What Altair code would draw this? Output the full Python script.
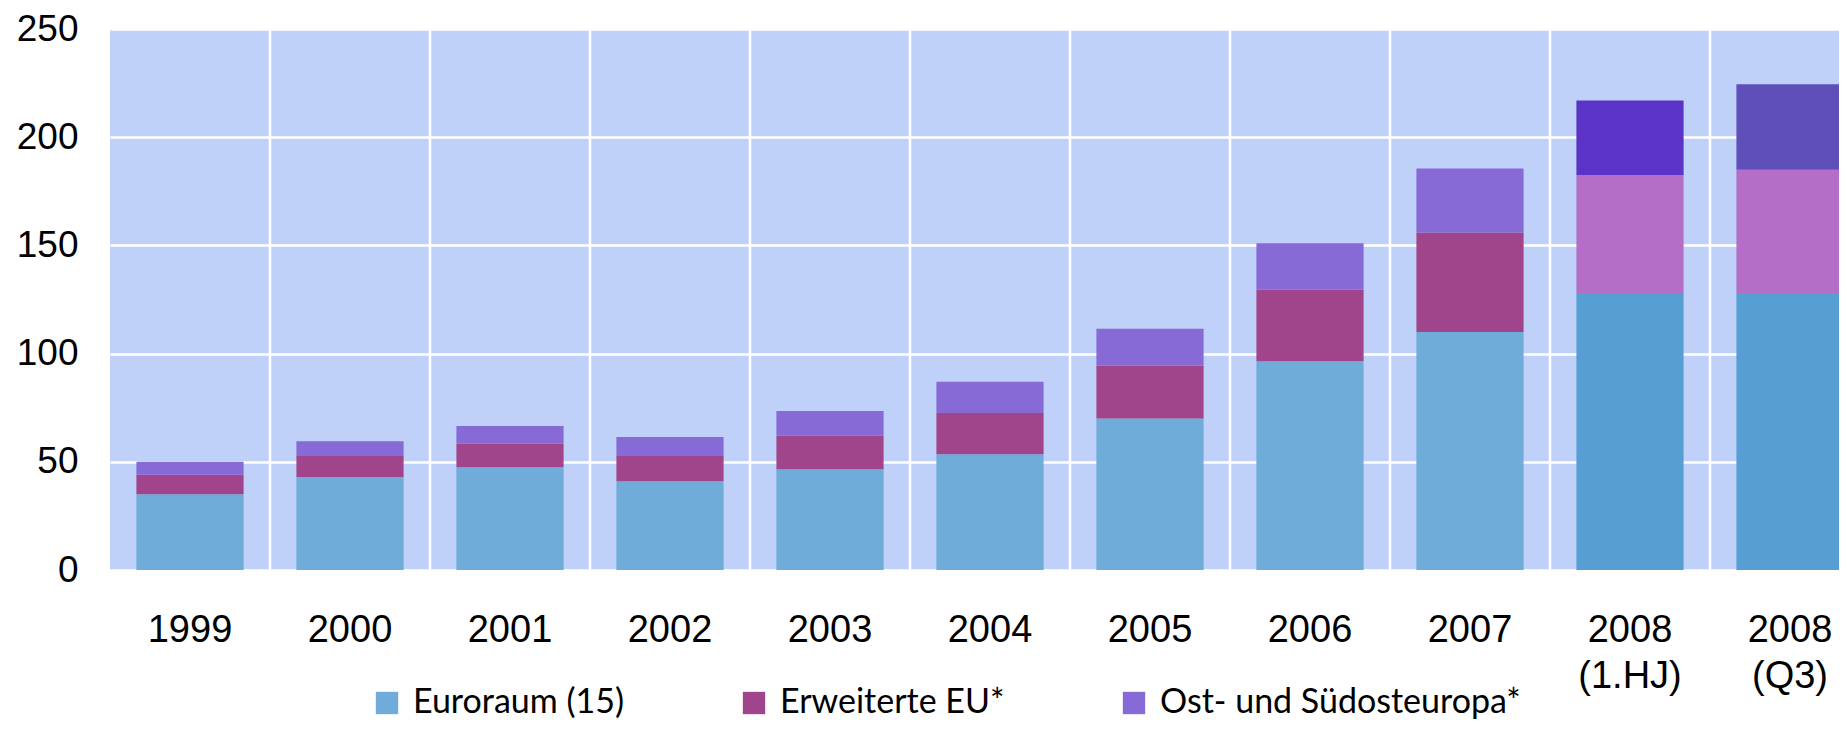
import altair as alt
import pandas as pd

categories = ["1999", "2000", "2001", "2002", "2003", "2004", "2005", "2006", "2007",
              "2008 (1.HJ)", "2008 (Q3)"]
euroraum = [35, 43, 47.5, 41, 46.5, 53.5, 70, 96.5, 110, 128, 128]
erweiterte_eu = [9, 10, 11, 12, 15.5, 19, 24.5, 33, 46, 54.5, 57]
ost_suedost = [6, 6.5, 8, 8.5, 11.5, 14.5, 17, 21.5, 29.5, 34.5, 39.5]
series_names = ["Euroraum (15)", "Erweiterte EU*", "Ost- und Südosteuropa*"]

# styles
series_colors = ["#6FACD9", "#A0458B", "#876AD6"]
special_colors = {
    ("2008 (1.HJ)", 0): "#579ED3", ("2008 (1.HJ)", 1): "#B46EC8", ("2008 (1.HJ)", 2): "#5B33C6",
    ("2008 (Q3)", 0): "#579ED3", ("2008 (Q3)", 1): "#B46EC8", ("2008 (Q3)", 2): "#5E4FBA",
}

rows = []
for i, cat in enumerate(categories):
    for k, vals in enumerate([euroraum, erweiterte_eu, ost_suedost]):
        rows.append({
            "cat": cat,
            "series": series_names[k],
            "order": k,
            "value": vals[i],
            "color": special_colors.get((cat, k), series_colors[k]),
            "special": (cat, k) in special_colors,
        })
df = pd.DataFrame(rows)
cat_df = pd.DataFrame({"cat": categories})

x_scale = alt.Scale(domain=categories, range=[0, 1760], paddingInner=0.33, paddingOuter=0.165)
x_axis = alt.Axis(
    title=None, labelAngle=0, ticks=False, tickSize=0, domain=False, grid=False,
    labelFont="Liberation Sans", labelFontSize=38, labelColor="black",
    labelPadding=41, labelBaseline="top", labelLineHeight=46,
    labelExpr="split(datum.label, ' ')",
)
y_scale = alt.Scale(domain=[0, 250], nice=False)
y_axis = alt.Axis(
    title=None, values=[0, 50, 100, 150, 200, 250], ticks=False, tickSize=0, domain=False,
    grid=True, gridColor="white", gridWidth=2.5, gridOpacity=1,
    labelFont="Liberation Sans", labelFontSize=37, labelColor="black",
    labelPadding=32,
)

x_enc = alt.X("cat:N", sort=categories, scale=x_scale, axis=x_axis)
y_enc = alt.Y("value:Q", stack="zero", scale=y_scale, axis=y_axis)

main = alt.Chart(df).transform_filter("!datum.special").mark_bar().encode(
    x=x_enc,
    y=y_enc,
    order=alt.Order("order:Q"),
    color=alt.Color(
        "series:N",
        sort=series_names,
        scale=alt.Scale(domain=series_names, range=series_colors),
        legend=alt.Legend(
            title=None, orient="none", direction="horizontal",
            legendX=260, legendY=657, padding=0,
            symbolType="square", symbolSize=500, symbolStrokeWidth=0, symbolOpacity=1,
            labelFont="Lato", labelFontSize=34, labelColor="black", labelOffset=9,
            columnPadding=112, labelLimit=600,
        ),
    ),
)

special = alt.Chart(df).transform_filter("datum.special").mark_bar().encode(
    x=x_enc,
    y=y_enc,
    order=alt.Order("order:Q"),
    color=alt.Color("color:N", scale=None),
)

# vertical separators between categories (drawn at the end of each category step)
vgrid = alt.Chart(cat_df).mark_rule(color="white", strokeWidth=2.5, xOffset=26.4).encode(
    x=alt.X("cat:N", sort=categories, scale=x_scale, bandPosition=1, axis=x_axis),
    y=alt.Y("y0:Q", scale=y_scale, axis=y_axis),
    y2="y1:Q",
).transform_calculate(y0="0", y1="250")

chart = alt.layer(main, special, vgrid).resolve_scale(color="independent").properties(
    width=1729,
    height=541,
    background="white",
    autosize=alt.AutoSizeParams(type="none"),
    padding={"left": 102, "top": 21, "right": 0, "bottom": 154},
).configure_view(
    fill="#BFD1F8", stroke=None
)

chart.save("out.html", embed_options={"renderer": "svg", "actions": False})
